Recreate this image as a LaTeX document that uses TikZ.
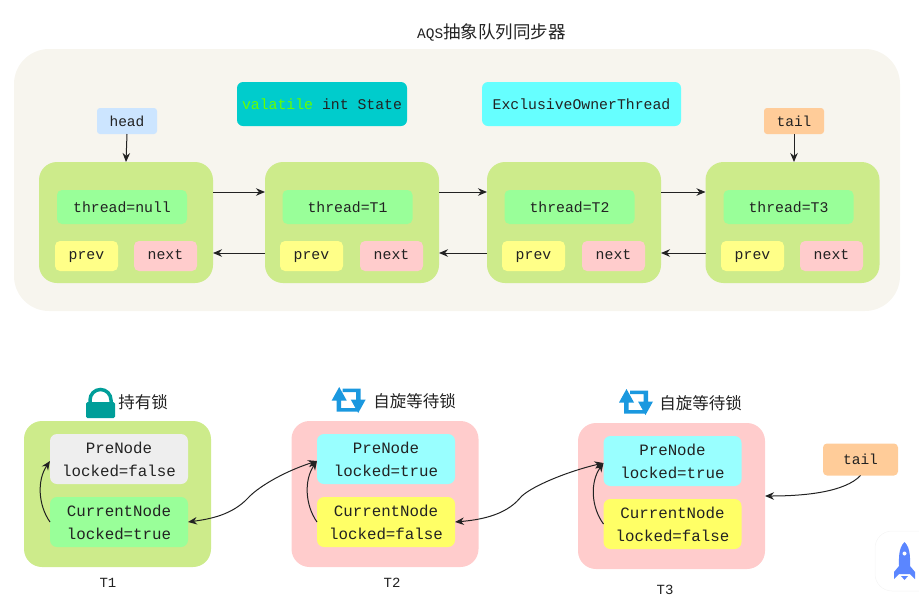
\documentclass[tikz,border=0pt]{standalone}
\usepackage{fontspec}
\setmainfont{Liberation Mono}
\newfontfamily\cjk{Noto Sans CJK SC}
\usetikzlibrary{arrows.meta}
\definecolor{bgc}{HTML}{F7F5EE}
\definecolor{lime}{HTML}{CDEB8B}
\definecolor{mint}{HTML}{99FF99}
\definecolor{ylw}{HTML}{FFFF88}
\definecolor{ylwb}{HTML}{FFFF66}
\definecolor{pnk}{HTML}{FFCCCC}
\definecolor{hd}{HTML}{CCE5FF}
\definecolor{tl}{HTML}{FFCC99}
\definecolor{teal2}{HTML}{00CCCC}
\definecolor{cyan2}{HTML}{66FFFF}
\definecolor{cyan3}{HTML}{99FFFF}
\definecolor{gry}{HTML}{EEEEEE}
\definecolor{ink}{HTML}{222222}
\definecolor{lockc}{HTML}{009E99}
\definecolor{spinc}{HTML}{1A98DF}
\definecolor{rkt}{HTML}{5B86FF}
\tikzset{
 x=1pt,y=-1pt,
 box/.style n args={3}{draw=none,fill=#1,rounded corners=#2,minimum width=#3,inner sep=0pt,outer sep=0pt,text=ink,align=center,font=\fontsize{14.8}{23}\selectfont},
 big/.style={box={lime}{18pt}{174pt},minimum height=121pt},
 thr/.style={box={mint}{5pt}{130pt},minimum height=34pt},
 smallb/.style={box={#1}{5pt}{63pt},minimum height=30pt,text height=9pt,text depth=3pt},
 outerb/.style={box={#1}{18pt}{187pt},minimum height=146pt},
 inb/.style={box={#1}{7pt}{138pt},minimum height=50pt,font=\fontsize{15.8}{23}\selectfont},
 arr/.style={draw=ink,line width=1pt,-{Stealth[length=9pt,width=7.5pt]}},
 arrb/.style={draw=ink,line width=1pt,{Stealth[length=9pt,width=7.5pt]}-{Stealth[length=9pt,width=7.5pt]}},
 cjklab/.style={inner sep=0pt,text=ink,font=\cjk\fontsize{16.5}{18}\selectfont},
 plainlab/.style={inner sep=0pt,text=ink,font=\fontsize{14}{16}\selectfont},
 spin/.pic={
  \fill[spinc] (-9.5,-13) -- (-17,0.5) -- (-12,0.5) -- (-12,11.5) -- (9,11.5) -- (9,8) -- (-7.5,8) -- (-7.5,0.5) -- (-2,0.5) -- cycle;
  \fill[spinc] (9.5,13) -- (17,-0.5) -- (12,-0.5) -- (12,-11.5) -- (-6,-11.5) -- (-6,-8) -- (7.5,-8) -- (7.5,-0.5) -- (2,-0.5) -- cycle;
 }
}
\begin{document}
\begin{tikzpicture}
\useasboundingbox (0,0) rectangle (919,598);
\node[plainlab,font=\fontsize{14.5}{16}\selectfont] (title) at (491.5,32) {AQS{\cjk\fontsize{17.5}{18}\selectfont 抽象队列同步器}};
\node[box={bgc}{35pt}{886pt},minimum height=262pt] (outer) at (457,180) {};
\node[box={teal2}{6pt}{170pt},minimum height=44pt] (state) at (322,104) {\textcolor[HTML]{66FF00}{valatile} int State};
\node[box={cyan2}{6pt}{199pt},minimum height=44pt] (owner) at (581.5,104) {ExclusiveOwnerThread};
\node[box={hd}{3pt}{60pt},minimum height=26pt,font=\fontsize{14.5}{16}\selectfont] (head) at (127,121) {head};
\node[box={tl}{3pt}{60pt},minimum height=26pt,font=\fontsize{14.5}{16}\selectfont] (tail) at (794,121) {tail};
\node[big] (n1) at (126,222.5) {};
\node[big] (n2) at (352,222.5) {};
\node[big] (n3) at (574,222.5) {};
\node[big] (n4) at (792.5,222.5) {};
\node[thr] (t1) at (122,207) {thread=null};
\node[thr] (t2) at (347.5,207) {thread=T1};
\node[thr] (t3) at (569.5,207) {thread=T2};
\node[thr] (t4) at (788.5,207) {thread=T3};
\node[smallb=ylw] (p1) at (86.5,256) {prev};
\node[smallb=pnk] (x1) at (165.5,256) {next};
\node[smallb=ylw] (p2) at (311.5,256) {prev};
\node[smallb=pnk] (x2) at (391.5,256) {next};
\node[smallb=ylw] (p3) at (533.5,256) {prev};
\node[smallb=pnk] (x3) at (613.5,256) {next};
\node[smallb=ylw] (p4) at (752.5,256) {prev};
\node[smallb=pnk] (x4) at (831.5,256) {next};
\draw[arr] (head.south) -- (n1.north);
\draw[arr] (tail.south) -- (tail.south |- n4.north);
\foreach \a/\b in {n1/n2,n2/n3,n3/n4}{
 \draw[arr] ([yshift=30.5pt]\a.east) -- ([yshift=30.5pt]\b.west);
 \draw[arr] ([yshift=-30.5pt]\b.west) -- ([yshift=-30.5pt]\a.east);
}
% lower row
\node[outerb=lime] (b1) at (117.5,494) {};
\node[outerb=pnk] (b2) at (385,494) {};
\node[outerb=pnk] (b3) at (671.5,496) {};
\node[inb=gry] (pre1) at (119,459) {PreNode\\locked=false};
\node[inb=mint] (cur1) at (119,522) {CurrentNode\\locked=true};
\node[inb=cyan3] (pre2) at (386,459) {PreNode\\locked=true};
\node[inb=ylwb] (cur2) at (386,522) {CurrentNode\\locked=false};
\node[inb=cyan3] (pre3) at (672.5,461) {PreNode\\locked=true};
\node[inb=ylwb] (cur3) at (672.5,524) {CurrentNode\\locked=false};
\node[box={tl}{4pt}{75pt},minimum height=32pt,font=\fontsize{14.5}{16}\selectfont] (tail2) at (860.5,459.5) {tail};
\draw[arr] (cur1.west) .. controls (38,505) and (37,480) .. ([yshift=-2pt]pre1.west);
\draw[arr] (cur2.west) .. controls (305,505) and (304,480) .. ([yshift=-2pt]pre2.west);
\draw[arr] (cur3.west) .. controls (591,507) and (590,482) .. ([yshift=-2pt]pre3.west);
\draw[arrb] (cur1.east) .. controls (210,519) and (232,515) .. (248,498) .. controls (256,489) and (280,473) .. ([yshift=-2pt]pre2.west);
\draw[arrb] (cur2.east) .. controls (478,520) and (505,516) .. (520,498) .. controls (528,488) and (565,472) .. ([yshift=-2pt]pre3.west);
\draw[arr] (tail2.south) .. controls (845,492) and (805,496) .. (b3.east);
\node[plainlab] (l1) at (108,583) {T1};
\node[plainlab] (l2) at (392,583) {T2};
\node[plainlab] (l3) at (665,590) {T3};
\node[cjklab] (h1) at (143,402) {持有锁};
\node[cjklab] (h2) at (414.5,401) {自旋等待锁};
\node[cjklab] (h3) at (700.5,403) {自旋等待锁};
% lock
\fill[lockc,rounded corners=1.5pt] (86,402) rectangle (115,418);
\draw[lockc,line width=3.5pt] (90,404) -- (90,400) arc[start angle=180,end angle=0,radius=10.5pt] -- (111,404);
% spin icons
\pic at (348.7,400) {spin};
\pic at (636,402) {spin};
% rocket badge
\fill[white] (919,531) -- (892,531) arc[start angle=90,end angle=180,radius=17pt] -- (875,574) arc[start angle=180,end angle=270,radius=17pt] -- (919,591) -- cycle;
\draw[black!4,line width=0.5pt] (919,531) -- (892,531) arc[start angle=90,end angle=180,radius=17pt] -- (875,574) arc[start angle=180,end angle=270,radius=17pt] -- (919,591);
\fill[rkt] (904.5,542) .. controls (898,548) and (899,560) .. (899,566) -- (894,572) -- (894,579) -- (899,574) -- (910,574) -- (915,579) -- (915,572) -- (910,566) .. controls (910,560) and (911,548) .. (904.5,542) -- cycle;
\fill[rkt] (901,576) -- (908,576) -- (904.5,580) -- cycle;
\fill[white] (904.5,553.5) circle[radius=2pt];
\end{tikzpicture}
\end{document}
